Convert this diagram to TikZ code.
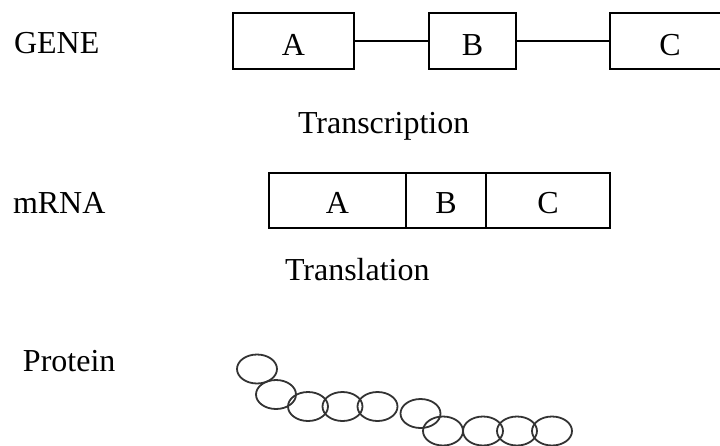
\documentclass[tikz,border=0pt]{standalone}
\usepackage{fontspec}
\setmainfont{Liberation Serif}
\usetikzlibrary{graphs, positioning, shapes.geometric}

\begin{document}
\begin{tikzpicture}[x=1pt, y=-1pt, line width=1.4pt, outer sep=0pt,
		every node/.style={font=\fontsize{32}{37}\selectfont},
		box/.style={draw, rectangle, minimum height=56pt, inner sep=0pt, text height=29pt, text depth=0pt},
		bead/.style={draw=black!80, ellipse, minimum width=40pt, minimum height=29pt, inner sep=0pt, line width=1.8pt},
		lbl/.style={anchor=base west, inner sep=0pt}]
		\useasboundingbox (0,0) rectangle (720,445);
		\clip (0,0) rectangle (720,445);

		% gene
		\node[box, minimum width=121pt]                         (gA)  at (293.5,41) {A};
		\node[box, minimum width=87pt]                          (gB)  at (472.5,41) {B};
		\node[box, minimum width=120pt]                         (gC)  at (670,41)   {C};

		% mRNA
		\node[box, minimum width=137pt, minimum height=55pt, text height=25pt]          (mA)  at (337.5,200.5) {A};
		\node[box, minimum width=80pt, minimum height=55pt, text height=25pt, right=0pt of mA]   (mB)  {B};
		\node[box, minimum width=124pt, minimum height=55pt, text height=25pt, right=0pt of mB]  (mC)  {C};

		% labels
		\node[lbl]     (gene)     at (14,53)   {GENE};
		\node[lbl]     (mrna)     at (13,213)  {mRNA};
		\node[lbl]     (protein)  at (23,371)  {Protein};
		\node[lbl]     (transcr)  at (298,133) {Transcription};
		\node[lbl]     (transl)   at (285,280) {Translation};

		% protein chain
		\foreach \i/\x/\y in {1/257/369, 2/276/394.5, 3/308/406.5, 4/342.5/406.5, 5/377.5/406.5,
				6/420.5/413.5, 7/443/431, 8/483/431, 9/517/431, 10/552/431}
			\node[bead] (p\i) at (\x,\y) {};

		\graph{
			(gA) -- (gB) -- (gC);
		};
	\end{tikzpicture}
\end{document}
